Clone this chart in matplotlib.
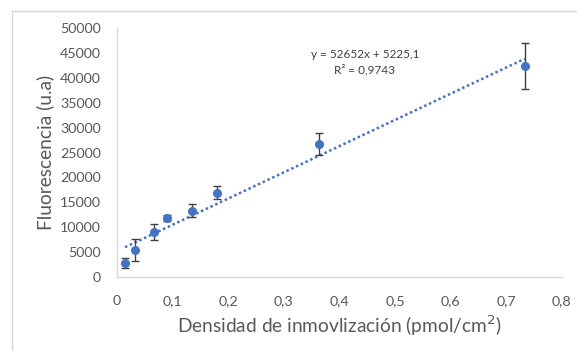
import matplotlib
matplotlib.use('Agg')
import matplotlib.pyplot as plt
from matplotlib.patches import Rectangle
import numpy as np

# immobilization density (pmol/cm2) vs fluorescence (a.u.)
density = [0.0144, 0.032, 0.067, 0.089, 0.134, 0.179, 0.364, 0.733]
fluor = [2750, 5420, 8980, 11790, 13310, 16930, 26710, 42430]
fluor_err = [1000, 2300, 1600, 600, 1350, 1250, 2300, 4600]

# linear fit reported on the chart
slope = 52652
intercept = 5225.1
r2 = 0.9743

blue = '#4472C4'
gray_txt = '#595959'

plt.rcParams['font.family'] = ['Lato', 'DejaVu Sans']

fig = plt.figure(figsize=(5.77, 3.51), dpi=100)
W, H = 577, 351
ax = fig.add_axes([117 / W, 1 - 277 / H, (562 - 117) / W, (277 - 28) / H])

# chart frame
fig.patches.append(Rectangle((12 / W, -0.1), 1.2, 1 - 11 / H + 0.1, transform=fig.transFigure,
                             fill=False, edgecolor='#d9d9d9', linewidth=1, zorder=0))

# trendline
xt = np.array([min(density), max(density)])
ax.plot(xt, slope * xt + intercept, linestyle=(0, (1, 1.1)), color=blue, linewidth=1.8, zorder=2)

ax.errorbar(density, fluor, yerr=fluor_err, fmt='o', color=blue, markersize=5.5,
            ecolor='#404040', elinewidth=1, capsize=3, capthick=1, zorder=3)

ax.set_xlim(0, 0.8)
ax.set_ylim(0, 50000)
ax.set_xticks(np.arange(0, 0.81, 0.1))
ax.set_xticklabels(['0'] + [('%.1f' % v).replace('.', ',') for v in np.arange(0.1, 0.81, 0.1)])
ax.set_yticks(np.arange(0, 50001, 5000))
ax.set_yticklabels([str(v) for v in range(0, 50001, 5000)])
ax.tick_params(length=0, labelsize=10.3, colors=gray_txt)
ax.tick_params(axis='y', pad=11.5)
ax.tick_params(axis='x', pad=13)

for s in ['top', 'right']:
    ax.spines[s].set_visible(False)
ax.spines['left'].set_color('#d9d9d9')
ax.spines['bottom'].set_color('#d9d9d9')
ax.spines['left'].set_linewidth(1)
ax.spines['bottom'].set_linewidth(1)

ax.set_xlabel('Densidad de inmovlización (pmol/cm$^2$)', fontsize=13.8, color=gray_txt, labelpad=5)
ax.set_ylabel('Fluorescencia (u.a)', fontsize=13.8, color=gray_txt, labelpad=4)

eq = 'y = %dx + %s\nR² = %s' % (slope, str(intercept).replace('.', ','), str(r2).replace('.', ','))
fig.text(365 / W, 1 - 62 / H, eq, ha='center', va='center', fontsize=8.5, color='#404040',
         linespacing=1.45)

fig.savefig('out.png', dpi=100, facecolor='white')
